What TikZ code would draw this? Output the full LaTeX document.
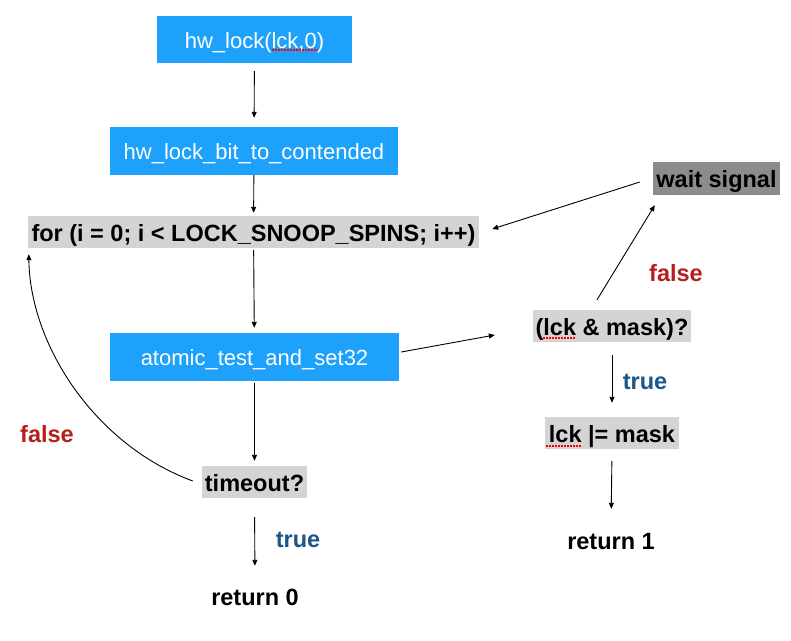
\documentclass[tikz,border=0pt]{standalone}
\usepackage{fontspec}
\setmainfont{Liberation Sans}
\usetikzlibrary{arrows.meta}
\definecolor{boxblue}{RGB}{30,161,250}
\definecolor{lightgr}{RGB}{212,212,212}
\definecolor{darkgr}{RGB}{140,140,140}
\definecolor{falsered}{RGB}{180,32,30}
\definecolor{trueblue}{RGB}{26,86,136}
\tikzset{
  bluebox/.style={fill=boxblue, text=white, inner sep=0pt, text height=19.4pt, text depth=2pt, font=\fontsize{22}{26}\selectfont},
  graybox/.style={fill=lightgr, inner sep=0pt, text height=20pt, text depth=2pt, font=\fontsize{23.5}{28}\selectfont\bfseries},
  darkbox/.style={fill=darkgr, inner sep=0pt, text height=20.6pt, text depth=2pt, font=\fontsize{23.5}{28}\selectfont\bfseries},
  plain/.style={inner sep=0pt, text height=17pt, text depth=5pt, font=\fontsize{23.5}{28}\selectfont\bfseries},
  lbl/.style={inner sep=0pt, font=\fontsize{23.5}{28}\selectfont\bfseries},
  arr/.style={draw=black, line width=0.9pt, -{Triangle[length=6pt,width=5pt]}},
  spell/.style={draw=red, line width=1.2pt, dash pattern=on 1.5pt off 1.5pt},
}
\begin{document}
\begin{tikzpicture}[x=1pt,y=-1pt]
\useasboundingbox[fill=white] (0,0) rectangle (791,640);
% nodes
\node[bluebox, minimum width=195pt, minimum height=47pt] (hwlock) at (254.5,39.5) {hw\_lock(lck,0)};
\node[bluebox, minimum width=288pt, minimum height=48pt] (bit) at (254,151) {hw\_lock\_bit\_to\_contended};
\node[graybox, minimum width=451pt, minimum height=32pt] (loop) at (253.5,232) {for (i = 0; i < LOCK\_SNOOP\_SPINS; i++)};
\node[bluebox, minimum width=289pt, minimum height=48pt] (atomic) at (254.5,357) {atomic\_test\_and\_set32};
\node[graybox, minimum width=105pt, minimum height=32pt] (timeout) at (254.5,482) {timeout?};
\node[plain] (ret0) at (255,599) {return 0};
\node[darkbox, minimum width=127pt, minimum height=33pt] (wait) at (716.5,178) {wait signal};
\node[graybox, minimum width=158pt, minimum height=32pt] (mask) at (612,326) {(lck \& mask)?};
\node[graybox, minimum width=134pt, minimum height=32pt] (lckor) at (612,433) {lck |= mask};
\node[plain] (ret1) at (611,543) {return 1};
% labels
\node[lbl, text=falsered] (f1) at (47,434) {false};
\node[lbl, text=falsered] (f2) at (676,273) {false};
\node[lbl, text=trueblue] (t1) at (298,540) {true};
\node[lbl, text=trueblue] (t2) at (645,382) {true};
% spell-check underlines
\draw[spell] ([shift={(17.5,10.5)}]hwlock.center) -- ++(46,0);
\draw[spell] ([shift={(-69,12)}]mask.center) -- ++(33,0);
\draw[spell] ([shift={(-66,13)}]lckor.center) -- ++(35,0);
% connectors
\draw[arr, shorten <=8pt, shorten >=9pt] (hwlock) -- (bit);
\draw[arr, shorten >=3pt] (bit) -- (loop);
\draw[arr, shorten <=2pt, shorten >=5pt] (loop) -- (atomic);
\draw[arr, shorten <=2pt, shorten >=5pt] (atomic) -- (timeout);
\draw[arr, shorten <=19pt, shorten >=22pt] (timeout.south) -- (ret0.north);
\draw[arr, shorten <=13pt, shorten >=14pt] (mask) -- (lckor);
\draw[arr, shorten <=12pt, shorten >=23pt] (lckor.south) -- (ret1.north);
\draw[arr] ([shift={(2,-5)}]atomic.east) -- ([shift={(-38,9)}]mask.west);
\draw[arr] ([shift={(-15,-10)}]mask.north) -- ([shift={(2,10.5)}]wait.south west);
\draw[arr] ([shift={(-13,4)}]wait.west) -- ([shift={(13,-3)}]loop.east);
\draw[arr] ([shift={(-9,-1)}]timeout.west) .. controls (95,445) and (30,345) .. ([shift={(1,6)}]loop.south west);
\end{tikzpicture}
\end{document}
